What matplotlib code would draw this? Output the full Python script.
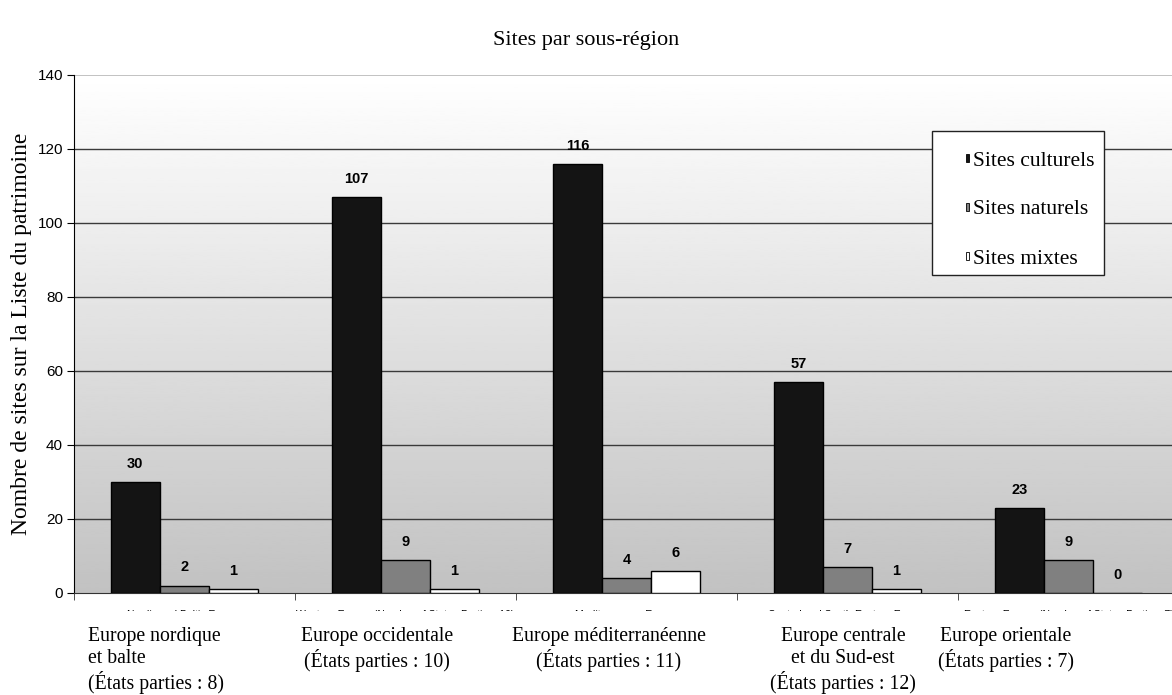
import numpy as np
import matplotlib
matplotlib.use("Agg")
import matplotlib.pyplot as plt
from matplotlib.patches import Rectangle

# Sites inscrits par sous-région européenne
regions_en = ["Nordic and Baltic Europe",
              "Western Europe (Number of States Parties: 10)",
              "Mediterranean Europe",
              "Central and South-Eastern Europe",
              "Eastern Europe (Number of States Parties: 7)"]
regions_fr = ["Europe nordique\net balte\n(États parties : 8)",
              "Europe occidentale\n(États parties : 10)",
              "Europe méditerranéenne\n(États parties : 11)",
              "Europe centrale\net du Sud-est\n(États parties : 12)",
              "Europe orientale\n(États parties : 7)"]
series_names = ["Sites culturels", "Sites naturels", "Sites mixtes"]
culturels = [30, 107, 116, 57, 23]
naturels = [2, 9, 4, 7, 9]
mixtes = [1, 1, 6, 1, 0]
y_ticks = [0, 20, 40, 60, 80, 100, 120, 140]

SERIF = "Liberation Serif"
SANS = "Liberation Sans"

fig = plt.figure(figsize=(11.72, 6.95), dpi=100)
W, H = 1172, 695
ax = fig.add_axes([74 / W, 1 - 593 / H, 1105 / W, 518 / H])

n = len(culturels)
x = np.arange(n)
width = 1 / 4.5
colors = ["#141414", "#808080", "#ffffff"]

ax.set_xlim(-0.5, n - 0.5)
ax.set_ylim(0, 140)

# fond dégradé blanc -> gris
grad = np.linspace(0.76, 1.0, 256).reshape(-1, 1)
ax.imshow(grad, cmap="gray", vmin=0, vmax=1, aspect="auto",
          extent=(-0.5, n - 0.5, 0, 140), origin="lower", zorder=0)

for v in y_ticks[1:-1]:
    ax.axhline(v, color="#3a3a3a", lw=1, zorder=1)
ax.axhline(140, color="#b8b8b8", lw=1.2, zorder=1)

for i, (vals, c) in enumerate(zip([culturels, naturels, mixtes], colors)):
    pos = x + (i - 1) * width
    ax.bar(pos, vals, width, color=c, edgecolor="black", lw=1, zorder=3)
    for px, v in zip(pos, vals):
        ax.annotate(str(v), (px, v), xytext=(0, 8), textcoords="offset points",
                    ha="center", va="bottom", fontsize=10.5, fontweight="bold",
                    family=SANS, zorder=4)

for s in ["top", "right"]:
    ax.spines[s].set_visible(False)
ax.spines["left"].set_color("black")
ax.spines["bottom"].set_color("#333333")

ax.set_yticks(y_ticks)
ax.tick_params(axis="y", direction="out", length=5, labelsize=11, pad=3)
for t in ax.get_yticklabels():
    t.set_family(SANS)

ax.set_xticks(x)
ax.set_xticklabels(regions_en, fontsize=7.5, family=SANS)
ax.set_xticks(np.arange(-0.5, n), minor=True)
ax.tick_params(axis="x", which="major", length=0, pad=12)
ax.tick_params(axis="x", which="minor", direction="out", length=5, color="#333333")

ax.set_ylabel("Nombre de sites sur la Liste du patrimoine", family=SERIF,
              fontsize=17, labelpad=4)

fig.text(0.5, 1 - 40 / H, "Sites par sous-région", ha="center", va="center",
         family=SERIF, fontsize=16)

# légende
box = Rectangle((932 / W, 1 - 275 / H), 172 / W, 144 / H, transform=fig.transFigure,
                facecolor="white", edgecolor="#222222", lw=1, zorder=5)
fig.add_artist(box)
for k, (name, c) in enumerate(zip(series_names, colors)):
    yc = 1 - (161 + 49 * k) / H
    fig.add_artist(Rectangle((966 / W, yc - 1 / H), 3 / W, 8 / H, transform=fig.transFigure,
                             facecolor=c, edgecolor="black", lw=0.6, zorder=6))
    fig.text(973 / W, yc, name, ha="left", va="center", family=SERIF,
             fontsize=15.5, zorder=6)

# bandeau blanc sous l'axe et libellés en français
fig.add_artist(Rectangle((0, 0), 1, 1 - 611 / H, transform=fig.transFigure,
                         facecolor="white", edgecolor="none", zorder=5))
label_pos = [(88, "left"), (377, "center"), (609, "center"), (843, "center"), (1006, "center")]
for (lx, ha), txt in zip(label_pos, regions_fr):
    fig.text(lx / W, 1 - 627 / H, txt, ha=ha, va="top", multialignment=ha,
             family=SERIF, fontsize=14.2, linespacing=1.18, zorder=6)

fig.savefig("out.png", dpi=100)
